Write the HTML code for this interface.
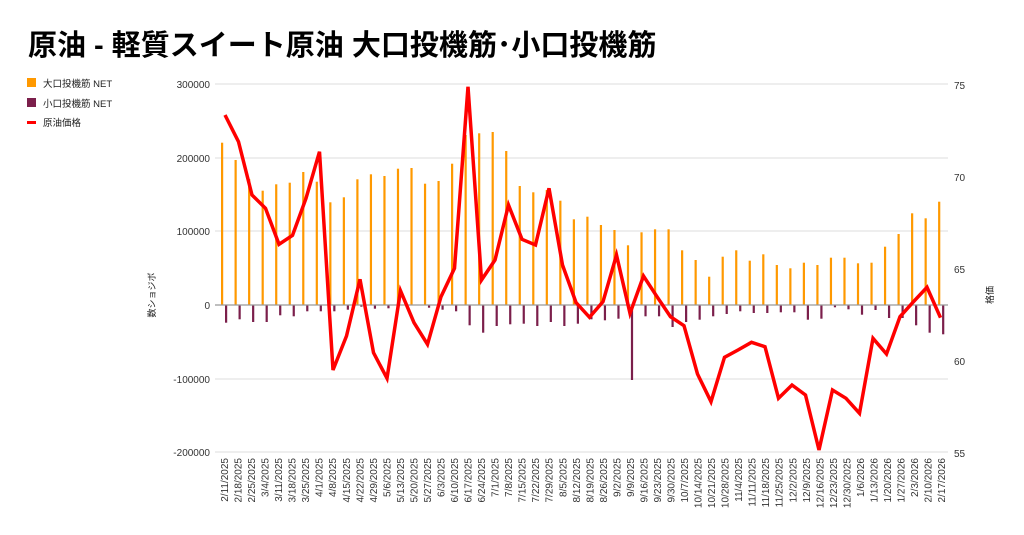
<!DOCTYPE html>
<html><head><meta charset="utf-8"><style>
html,body{margin:0;padding:0;background:#fff;}
svg{display:block;font-family:"Liberation Sans","Noto Sans CJK JP",sans-serif;}
</style></head><body>
<svg width="1024" height="535" viewBox="0 0 1024 535" xmlns="http://www.w3.org/2000/svg">
<text x="28" y="55" font-size="29" font-weight="bold" fill="#000">原油 - 軽質スイート原油 大口投機筋･小口投機筋</text>
<rect x="27" y="78" width="9" height="9" fill="#ff9900"/>
<text x="43" y="87" font-size="9.5" fill="#222">大口投機筋  NET</text>
<rect x="27" y="98" width="9" height="9" fill="#7b1f4b"/>
<text x="43" y="107" font-size="9.5" fill="#222">小口投機筋  NET</text>
<rect x="27" y="121" width="9" height="3" fill="#ff0000"/>
<text x="43" y="126" font-size="9.5" fill="#222">原油価格</text>
<g id="grid" stroke="#dddddd" stroke-width="1">
<line x1="215" x2="948" y1="84" y2="84"/><line x1="215" x2="948" y1="158" y2="158"/>
<line x1="215" x2="948" y1="231" y2="231"/><line x1="215" x2="948" y1="379" y2="379"/>
<line x1="215" x2="948" y1="452" y2="452"/>
</g>
<g font-size="10" fill="#333" text-anchor="end">
<text x="210" y="88">300000</text><text x="210" y="162">200000</text><text x="210" y="235">100000</text>
<text x="210" y="309">0</text><text x="210" y="383">-100000</text><text x="210" y="456">-200000</text>
</g>
<g font-size="10" fill="#333">
<text x="954" y="89">75</text><text x="954" y="181">70</text><text x="954" y="273">65</text>
<text x="954" y="365">60</text><text x="954" y="457">55</text>
</g>
<text transform="translate(155,295) rotate(-90)" font-size="9" fill="#222" text-anchor="middle">数ショジボ</text>
<text transform="translate(993,295) rotate(-90)" font-size="9" fill="#222" text-anchor="middle">格価</text>
<g id="bars"></g>
<line x1="215" x2="948" y1="305" y2="305" stroke="#999" stroke-width="1.2"/>
<polyline id="ln" fill="none" stroke="#ff0000" stroke-width="3.5" stroke-linejoin="miter"/>
<g id="xl" font-size="10" fill="#333" text-anchor="end"></g>
<script>
var o=[142.7,160,179,190.7,184.3,182.7,172,181.7,202.3,197.3,179.3,174.3,176,168.7,168,183.7,181,163.7,135,133.3,132,151,186,192.3,190,200.7,219.3,216.7,225,230,245.3,232.3,229.3,229.3,250.3,260,276.7,256.7,250.3,260.7,254.3,265,268.3,262.7,265,257.7,257.7,263.3,262.7,246.7,234,213.3,218.3,201.7];
var p=[322.7,319.3,322,322,315.3,316.3,311.3,311.3,311.3,309.7,306.7,308.7,308.3,305.5,305.5,307.7,309.7,311.3,325.3,332.7,326,324.3,323.7,326,322,326,323.7,319.3,320.3,318.7,380,316.3,316.3,327,322,319.7,316.3,314,311.3,313,313,312.3,312.3,319.7,318.7,307.3,309.3,314.7,310,318,318,325.3,332.7,334.3];
var l=[115,141.7,195,208.3,244.3,235.3,198.3,151.7,370,336,279.3,352.7,378.3,290.7,322.7,344.3,296.7,268.3,86.7,280,260,205,239.3,245,188.3,265,302.5,317.3,301.7,255,313.3,276,296.7,316.7,325.7,374,401.7,357.3,350,342.3,346.7,398.3,385,395,450,390,398.3,413.3,338.3,354,316.7,301.7,287.3,317.7];
var ns="http://www.w3.org/2000/svg",b=document.getElementById("bars"),xl=document.getElementById("xl");
var d=new Date(2025,1,11),pts=[];
for(var i=0;i<54;i++){
 var xo=222+i*13.53;
 var r=document.createElementNS(ns,"rect");r.setAttribute("x",xo-1);r.setAttribute("width",2.2);r.setAttribute("y",o[i]);r.setAttribute("height",305-o[i]);r.setAttribute("fill","#ff9900");b.appendChild(r);
 var r2=document.createElementNS(ns,"rect");r2.setAttribute("x",xo+3);r2.setAttribute("width",2.2);r2.setAttribute("y",305);r2.setAttribute("height",Math.max(0,p[i]-305));r2.setAttribute("fill","#7b1f4b");b.appendChild(r2);
 pts.push((225+i*13.5).toFixed(1)+","+l[i]);
 var t=document.createElementNS(ns,"text");var tx=xo+6;
 t.setAttribute("transform","translate("+tx.toFixed(1)+",458) rotate(-90)");
 t.textContent=(d.getMonth()+1)+"/"+d.getDate()+"/"+d.getFullYear();xl.appendChild(t);
 d.setDate(d.getDate()+7);
}
document.getElementById("ln").setAttribute("points",pts.join(" "));
</script>
</svg>
</body></html>
